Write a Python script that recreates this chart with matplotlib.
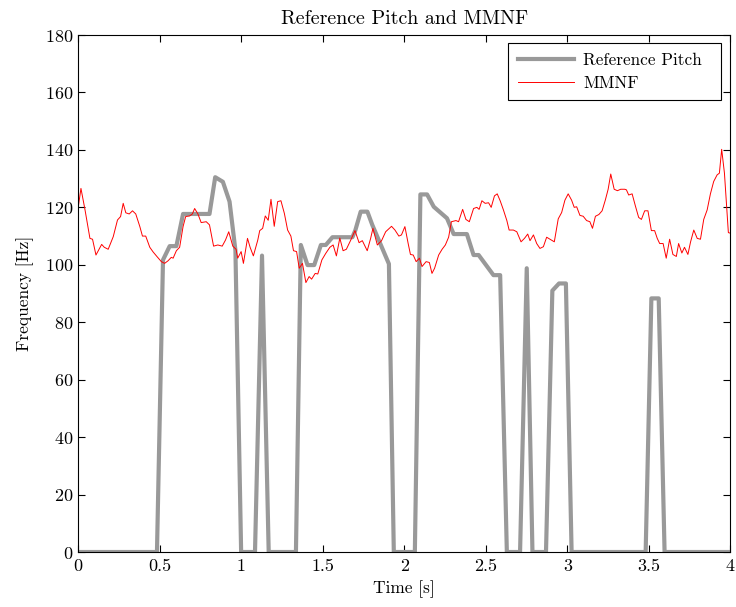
import matplotlib
matplotlib.use('Agg')
import matplotlib.pyplot as plt
from matplotlib.ticker import FormatStrFormatter

plt.rcParams['font.family'] = 'serif'
plt.rcParams['font.serif'] = ['cmr10']
plt.rcParams['mathtext.fontset'] = 'cm'
plt.rcParams['axes.formatter.use_mathtext'] = True

# reference pitch (gray)
ref_t = [0, 0.484, 0.521, 0.562, 0.603, 0.644, 0.806, 0.841, 0.888, 0.929, 0.965, 1.0,
         1.085, 1.128, 1.169, 1.336, 1.366, 1.407, 1.448, 1.489, 1.519, 1.56, 1.682, 1.70,
         1.733, 1.774, 1.804, 1.906, 1.936, 2.065, 2.099, 2.14, 2.181, 2.262, 2.303, 2.384,
         2.425, 2.456, 2.547, 2.588, 2.629, 2.71, 2.751, 2.786, 2.869, 2.908, 2.949, 2.991,
         3.026, 3.48, 3.515, 3.56, 3.596, 4.0]
ref_f = [0, 0, 101.7, 106.5, 106.5, 117.7, 117.7, 130.5, 128.9, 122.0, 105.0, 0,
         0, 103.2, 0, 0, 106.9, 99.9, 99.9, 106.9, 106.9, 109.6, 109.6, 112.0,
         118.5, 118.5, 113.9, 100.3, 0, 0, 124.5, 124.5, 120.2, 116.2, 110.7, 110.7,
         103.4, 103.4, 96.4, 96.4, 0, 0, 98.8, 0, 0, 91.0, 93.5, 93.5,
         0, 0, 88.3, 88.3, 0, 0]

# MMNF estimate (red)
mmnf_t = [0.000, 0.018, 0.043, 0.073, 0.089, 0.110, 0.145, 0.161, 0.185, 0.216, 0.242, 0.261,
          0.277, 0.293, 0.314, 0.334, 0.354, 0.379, 0.395, 0.415, 0.440, 0.460, 0.485, 0.511,
          0.531, 0.552, 0.572, 0.583, 0.603, 0.623, 0.644, 0.660, 0.684, 0.701, 0.715, 0.735,
          0.755, 0.786, 0.806, 0.831, 0.857, 0.884, 0.904, 0.924, 0.949, 0.969, 0.979, 1.000,
          1.014, 1.039, 1.055, 1.075, 1.102, 1.114, 1.132, 1.148, 1.166, 1.183, 1.203, 1.224,
          1.244, 1.265, 1.285, 1.305, 1.321, 1.340, 1.356, 1.376, 1.397, 1.417, 1.432, 1.454,
          1.470, 1.495, 1.519, 1.544, 1.564, 1.584, 1.605, 1.625, 1.645, 1.672, 1.698, 1.723,
          1.743, 1.773, 1.794, 1.808, 1.835, 1.861, 1.886, 1.922, 1.943, 1.967, 1.983, 2.004,
          2.024, 2.038, 2.055, 2.073, 2.093, 2.109, 2.134, 2.154, 2.170, 2.186, 2.211, 2.232,
          2.252, 2.272, 2.289, 2.317, 2.333, 2.358, 2.378, 2.399, 2.425, 2.445, 2.459, 2.476,
          2.496, 2.517, 2.533, 2.553, 2.570, 2.588, 2.608, 2.629, 2.643, 2.669, 2.690, 2.716,
          2.737, 2.757, 2.771, 2.792, 2.812, 2.832, 2.853, 2.873, 2.893, 2.920, 2.944, 2.965,
          2.985, 3.005, 3.026, 3.042, 3.057, 3.077, 3.097, 3.118, 3.138, 3.154, 3.172, 3.193,
          3.213, 3.233, 3.250, 3.266, 3.287, 3.307, 3.327, 3.352, 3.362, 3.376, 3.397, 3.417,
          3.437, 3.454, 3.474, 3.494, 3.515, 3.535, 3.551, 3.566, 3.587, 3.606, 3.627, 3.647,
          3.668, 3.682, 3.702, 3.718, 3.739, 3.755, 3.775, 3.796, 3.816, 3.836, 3.857, 3.877,
          3.897, 3.918, 3.932, 3.946, 3.963, 3.987, 4.000]
mmnf_f = [119.5, 126.6, 119.1, 109.2, 108.9, 103.4, 107.1, 106.1, 105.4, 109.8, 115.6, 116.8,
          121.4, 118.1, 117.7, 118.8, 117.7, 113.3, 110.0, 110.0, 106.1, 104.5, 102.8, 101.1,
          100.5, 101.4, 102.6, 102.3, 104.9, 106.1, 113.3, 116.8, 117.0, 117.7, 119.6, 117.7,
          114.7, 115.0, 113.9, 106.5, 106.9, 106.5, 108.6, 111.5, 106.5, 105.4, 102.3, 104.6,
          100.5, 109.2, 106.1, 103.1, 108.6, 111.9, 112.7, 117.0, 115.5, 122.8, 113.4, 122.0,
          122.3, 117.9, 112.1, 110.0, 104.9, 104.6, 98.8, 100.5, 93.8, 95.9, 95.0, 97.0,
          96.8, 101.7, 104.0, 106.1, 106.9, 103.1, 109.3, 104.9, 105.4, 108.6, 111.9, 107.7,
          108.4, 104.9, 109.2, 112.7, 106.9, 108.4, 111.5, 113.4, 112.1, 110.0, 110.4, 113.3,
          107.4, 103.6, 103.4, 101.1, 102.3, 99.4, 101.1, 100.8, 97.0, 98.8, 103.4, 105.4,
          106.9, 109.6, 115.0, 115.4, 115.0, 119.3, 115.8, 115.0, 119.6, 120.0, 119.3, 122.3,
          121.4, 121.6, 120.0, 124.0, 124.7, 122.3, 119.1, 115.4, 112.1, 112.1, 111.5, 108.0,
          109.2, 110.7, 108.4, 110.4, 107.4, 105.7, 106.3, 109.6, 108.9, 108.0, 116.0, 118.2,
          122.5, 124.7, 122.5, 120.0, 120.2, 117.2, 116.9, 115.4, 115.0, 112.7, 116.9, 117.5,
          118.8, 122.6, 126.3, 131.6, 126.3, 125.8, 126.3, 126.3, 126.1, 124.3, 124.7, 120.5,
          116.5, 115.8, 118.8, 118.8, 111.9, 111.9, 109.2, 107.4, 107.4, 102.3, 108.9, 103.6,
          102.9, 107.4, 104.1, 106.1, 103.6, 107.9, 112.1, 109.2, 108.9, 115.8, 119.1, 124.7,
          129.0, 131.3, 131.9, 140.2, 131.9, 111.2, 111.0]

fig = plt.figure(figsize=(7.36, 6.07), dpi=100)
ax = fig.add_axes([0.106, 0.0906, 0.8865, 0.8517])

ax.plot(ref_t, ref_f, color='#999999', linewidth=3, label='Reference Pitch')
ax.plot(mmnf_t, mmnf_f, color='red', linewidth=0.7, label='MMNF')

ax.set_xlim(0, 4)
ax.set_ylim(0, 180)
ax.set_xticks([0, 0.5, 1, 1.5, 2, 2.5, 3, 3.5, 4])
ax.set_yticks(range(0, 181, 20))
ax.xaxis.set_major_formatter(FormatStrFormatter('%g'))
ax.tick_params(direction='in', top=True, right=True, length=5, labelsize=13)
ax.tick_params(axis='x', pad=5)

ax.set_title('Reference Pitch and MMNF', fontsize=14.4, pad=8)
ax.set_xlabel('Time [s]', fontsize=12.5, labelpad=4)
ax.set_ylabel('Frequency [Hz]', fontsize=12.5, labelpad=8)

# legend box stretched to the width seen in the reference
leg = ax.legend(loc='upper left', bbox_to_anchor=(0.6595, 0.5, 0.3267, 0.4845),
                mode='expand', borderaxespad=0, fontsize=12.4, fancybox=False,
                framealpha=1, edgecolor='black', borderpad=0.55,
                handlelength=3.25, handletextpad=0.55, labelspacing=0.45)
leg.get_frame().set_linewidth(0.8)

fig.savefig('out.png', dpi=100)
